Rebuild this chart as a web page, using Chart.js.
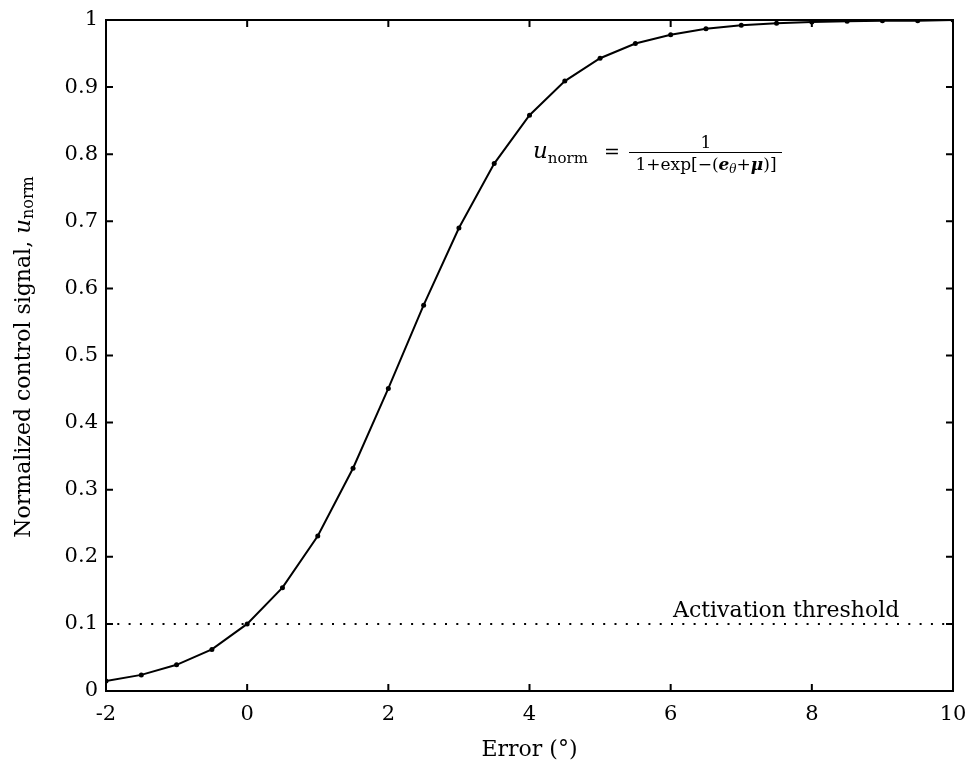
<!DOCTYPE html>
<html>
<head>
<meta charset="utf-8">
<script src="https://cdn.jsdelivr.net/npm/chart.js@4/dist/chart.umd.min.js"></script>
<style>
  html, body { margin: 0; padding: 0; background: #fff; }
  #wrap { width: 971px; height: 768px; }
</style>
</head>
<body>
<div id="wrap"><canvas id="sigmoidChart"></canvas></div>
<script>
const errorDeg = [-2, -1.5, -1, -0.5, 0, 0.5, 1, 1.5, 2, 2.5, 3, 3.5, 4, 4.5, 5, 5.5, 6, 6.5, 7, 7.5, 8, 8.5, 9, 9.5, 10];
const uNorm = [0.015, 0.024, 0.039, 0.062, 0.100, 0.154, 0.231, 0.332, 0.451, 0.575, 0.690, 0.786, 0.858, 0.909,
               0.943, 0.965, 0.978, 0.987, 0.992, 0.995, 0.997, 0.998, 0.999, 0.999, 1.000];
const thresholdX = [-2, 10];
const thresholdY = [0.1, 0.1];
const xTicks = [-2, 0, 2, 4, 6, 8, 10];
const yTicks = [0, 0.1, 0.2, 0.3, 0.4, 0.5, 0.6, 0.7, 0.8, 0.9, 1];

const serif = '"DejaVu Serif", "Liberation Serif", serif';

const ctx = document.getElementById('sigmoidChart');

// draws a run of [text, font, dy] pieces starting at x, returns the end x
function drawRun(c, parts, x, y) {
    parts.forEach(p => {
        c.font = p[1];
        c.fillText(p[0], x, y + p[2]);
        x += c.measureText(p[0]).width;
    });
    return x;
}
function runWidth(c, parts) {
    let w = 0;
    parts.forEach(p => { c.font = p[1]; w += c.measureText(p[0]).width; });
    return w;
}

// frame, inward ticks on all sides, and the text bits Chart.js can't style
const framePlugin = {
    id: 'frame',
    afterDatasetsDraw(chart) {
        const c = chart.ctx;
        const a = chart.chartArea;
        const xs = chart.scales.x, ys = chart.scales.y;
        c.save();
        c.strokeStyle = '#000';
        c.lineWidth = 2;
        c.strokeRect(a.left, a.top, a.right - a.left, a.bottom - a.top);
        const t = 7;
        c.beginPath();
        xTicks.forEach(v => {
            const px = xs.getPixelForValue(v);
            c.moveTo(px, a.bottom); c.lineTo(px, a.bottom - t);
            c.moveTo(px, a.top); c.lineTo(px, a.top + t);
        });
        yTicks.forEach(v => {
            const py = ys.getPixelForValue(v);
            c.moveTo(a.left, py); c.lineTo(a.left + t, py);
            c.moveTo(a.right, py); c.lineTo(a.right - t, py);
        });
        c.stroke();

        c.fillStyle = '#000';
        c.textBaseline = 'alphabetic';

        // threshold label
        c.font = '22px ' + serif;
        c.textAlign = 'left';
        c.fillText('Activation threshold', 673, 617);

        // x title
        c.textAlign = 'center';
        c.textBaseline = 'middle';
        c.fillText('Error (°)', (a.left + a.right) / 2, 750);

        // y title, rotated
        c.save();
        c.translate(24, 357);
        c.rotate(-Math.PI / 2);
        c.textBaseline = 'middle';
        c.textAlign = 'left';
        const yTitle = [
            ['Normalized control signal, ', '22px ' + serif, 0],
            ['u', 'italic 23px ' + serif, 0],
            ['norm', '16px ' + serif, 5]
        ];
        drawRun(c, yTitle, -runWidth(c, yTitle) / 2, 0);
        c.restore();

        // equation
        c.textBaseline = 'alphabetic';
        c.textAlign = 'left';
        drawRun(c, [
            ['u', 'italic 23px ' + serif, 0],
            ['norm', '15px ' + serif, 5]
        ], 533, 158);
        c.font = '19px ' + serif;
        c.fillText('=', 604, 158);
        c.lineWidth = 1;
        c.beginPath();
        c.moveTo(629, 152.5); c.lineTo(782, 152.5);
        c.stroke();
        c.textAlign = 'center';
        c.font = '17px ' + serif;
        c.fillText('1', 706, 148);
        // denominator: 1+exp[−(e_θ+μ)]
        c.textAlign = 'left';
        const den = [
            ['1+exp[−(', '17px ' + serif, 0],
            ['e', 'bold italic 17px ' + serif, 0],
            ['θ', 'italic 12px ' + serif, 3],
            ['+', '17px ' + serif, 0],
            ['μ', 'bold italic 17px ' + serif, 0],
            [')]', '17px ' + serif, 0]
        ];
        drawRun(c, den, 706 - runWidth(c, den) / 2, 170);
        c.restore();
    }
};

new Chart(ctx, {
    type: 'line',
    data: {
        datasets: [{
            label: 'u_norm',
            data: errorDeg.map((e, i) => ({ x: e, y: uNorm[i] })),
            borderColor: '#000',
            backgroundColor: '#000',
            borderWidth: 2,
            pointRadius: 2.5,
            pointBorderWidth: 0,
            tension: 0,
            fill: false
        }, {
            label: 'Activation threshold',
            data: thresholdX.map((e, i) => ({ x: e, y: thresholdY[i] })),
            borderColor: '#000',
            borderWidth: 2,
            borderDash: [2, 9.3],
            pointRadius: 0,
            fill: false
        }]
    },
    options: {
        responsive: true,
        maintainAspectRatio: false,
        animation: false,
        layout: { padding: { left: 0, top: 20, right: 18, bottom: 0 } },
        plugins: {
            legend: { display: false },
            tooltip: { enabled: false }
        },
        scales: {
            x: {
                type: 'linear',
                min: -2,
                max: 10,
                afterFit: s => { s.height = 77; },
                afterBuildTicks: s => { s.ticks = xTicks.map(v => ({ value: v })); },
                grid: { display: false },
                border: { display: false },
                ticks: {
                    color: '#000',
                    padding: 3,
                    maxRotation: 0,
                    font: { family: serif, size: 21 },
                    callback: v => String(v)
                }
            },
            y: {
                min: 0,
                max: 1,
                afterFit: s => { s.width = 106; },
                afterBuildTicks: s => { s.ticks = yTicks.map(v => ({ value: v })); },
                grid: { display: false },
                border: { display: false },
                ticks: {
                    color: '#000',
                    padding: 0,
                    font: { family: serif, size: 21 },
                    callback: v => String(+v.toFixed(1))
                }
            }
        }
    },
    plugins: [framePlugin]
});
</script>
</body>
</html>
